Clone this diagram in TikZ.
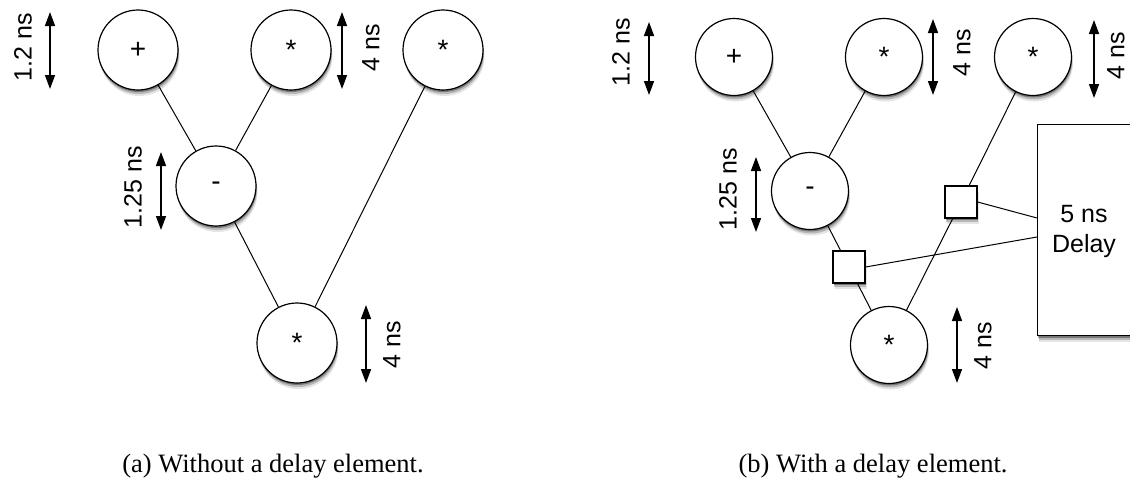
\documentclass[tikz,border=0pt]{standalone}
\usepackage{fontspec}
\setmainfont{Liberation Serif}
\newfontfamily\labfont{Liberation Sans}
\usetikzlibrary{arrows.meta,shadows}
\begin{document}
\begin{tikzpicture}[x=1pt,y=-1pt,
  softshadow/.style={
    drop shadow={shadow xshift=0.5pt,shadow yshift=-2pt,opacity=.35,fill=black},
    drop shadow={shadow xshift=1pt,shadow yshift=-4pt,opacity=.2,fill=black},
    drop shadow={shadow xshift=1.5pt,shadow yshift=-6pt,opacity=.1,fill=black}},
  op/.style={circle,draw,line width=1.2pt,fill=white,minimum size=80pt,inner sep=0pt,
    font=\labfont\fontsize{28}{30}\selectfont,softshadow},
  opb/.style={op,minimum size=77pt},
  reg/.style={rectangle,draw,line width=1.2pt,fill=white,minimum size=32pt,inner sep=0pt,softshadow},
  delaybox/.style={rectangle,draw,line width=1.2pt,fill=white,softshadow},
  wire/.style={line width=1pt},
  span/.style={line width=1.5pt,{Triangle[width=10pt,length=14pt]}-{Triangle[width=10pt,length=14pt]}},
  tm/.style={font=\labfont\fontsize{25}{30}\selectfont,rotate=90,inner sep=0pt},
  captext/.style={font=\fontsize{26.5}{30}\selectfont,inner sep=0pt}
]
\useasboundingbox (0,0) rectangle (1130,485);

% ---------------- (a) ----------------
\node[op] (aplus) at (138,50) {+};
\node[op] (amul1) at (291,50) {*};
\node[op] (amul2) at (443,50) {*};
\node[op] (aminus) at (216,186) {-};
\node[op] (amul3) at (297,343) {*};
\draw[wire] (aplus) -- (aminus);
\draw[wire] (amul1) -- (aminus);
\draw[wire] (aminus) -- (amul3);
\draw[wire] (amul2) -- (amul3);

\coordinate (a1t) at (50,12);  \coordinate (a1b) at (50,89);
\coordinate (a2t) at (342,12); \coordinate (a2b) at (342,89);
\coordinate (a3t) at (161,152); \coordinate (a3b) at (161,230);
\coordinate (a4t) at (366,305); \coordinate (a4b) at (366,383);
\draw[span] (a1t) -- (a1b);
\draw[span] (a2t) -- (a2b);
\draw[span] (a3t) -- (a3b);
\draw[span] (a4t) -- (a4b);
\node[tm] (al1) at (23,47) {1.2 ns};
\node[tm] (al2) at (371,48) {4 ns};
\node[tm] (al3) at (133,187) {1.25 ns};
\node[tm] (al4) at (392,345) {4 ns};

\node[captext] (capa) at (273,466) {(a)\ Without a delay element.};

% ---------------- (b) ----------------
\node[delaybox,minimum width=110pt,minimum height=211pt,anchor=north west] (dl) at (1037,124) {};
\node[font=\labfont\fontsize{25}{30}\selectfont,align=center,inner sep=0pt] (dltext) at (1084,231) {5 ns\\Delay};

\node[opb] (bplus) at (734,57) {+};
\node[opb] (bmul1) at (884,57) {*};
\node[opb] (bmul2) at (1033,57) {*};
\node[opb] (bminus) at (810,191) {-};
\node[opb] (bmul3) at (889,345) {*};
\node[reg] (sq1) at (961,202) {};
\node[reg] (sq2) at (849,267) {};
\coordinate (d1) at (1037,218);
\coordinate (d2) at (1037,237);

\draw[wire] (bplus) -- (bminus);
\draw[wire] (bmul1) -- (bminus);
\draw[wire] (bmul2) -- (sq1);
\draw[wire] (sq1) -- (bmul3);
\draw[wire] (bminus) -- (sq2);
\draw[wire] (sq2) -- (bmul3);
\draw[wire] (sq1.east) -- (d1);
\draw[wire] (sq2.east) -- (d2);

\coordinate (b1t) at (649,22);  \coordinate (b1b) at (649,95);
\coordinate (b2t) at (933,19);  \coordinate (b2b) at (933,95);
\coordinate (b5t) at (1094,20); \coordinate (b5b) at (1094,98);
\coordinate (b3t) at (756,157); \coordinate (b3b) at (756,232);
\coordinate (b4t) at (957,307); \coordinate (b4b) at (957,383);
\draw[span] (b1t) -- (b1b);
\draw[span] (b2t) -- (b2b);
\draw[span] (b5t) -- (b5b);
\draw[span] (b3t) -- (b3b);
\draw[span] (b4t) -- (b4b);
\node[tm] (bl1) at (621,52) {1.2 ns};
\node[tm] (bl2) at (962,53) {4 ns};
\node[tm] (bl5) at (1116,56) {4 ns};
\node[tm] (bl3) at (728,189) {1.25 ns};
\node[tm] (bl4) at (983,346) {4 ns};

\node[captext] (capb) at (873,466) {(b)\ With a delay element.};
\end{tikzpicture}
\end{document}
